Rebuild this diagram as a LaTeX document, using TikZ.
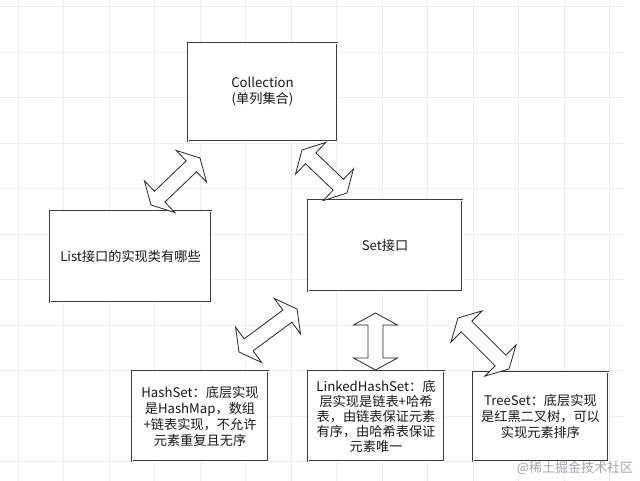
\documentclass[tikz,border=0pt]{standalone}
\usepackage{fontspec}
\setmainfont{Noto Sans CJK SC}
\usetikzlibrary{calc}
\definecolor{gridc}{RGB}{236,236,241}
\definecolor{boxc}{RGB}{60,60,60}
\definecolor{txtc}{RGB}{25,25,25}
\definecolor{wmc}{RGB}{165,165,170}
\tikzset{
  box/.style={draw=boxc, line width=0.9pt, double=white, double distance=0.9pt,
    fill=white, rectangle, inner sep=2pt, align=center, text=txtc,
    font=\fontsize{13.2}{16}\selectfont},
  arrowline/.style={draw=black!85, line width=0.8pt, fill=white, line join=miter},
  gridline/.style={draw=gridc, line width=0.8pt}
}
\newcommand\darr[2]{%
  \draw[arrowline] (#1)
   -- ($(#1)!12pt!(#2)!22pt!90:(#2)$)
   -- ($(#1)!12pt!(#2)!7.5pt!90:(#2)$)
   -- ($(#2)!12pt!(#1)!7.5pt!-90:(#1)$)
   -- ($(#2)!12pt!(#1)!22pt!-90:(#1)$)
   -- (#2)
   -- ($(#2)!12pt!(#1)!22pt!90:(#1)$)
   -- ($(#2)!12pt!(#1)!7.5pt!90:(#1)$)
   -- ($(#1)!12pt!(#2)!7.5pt!-90:(#2)$)
   -- ($(#1)!12pt!(#2)!22pt!-90:(#2)$)
   -- cycle;}
\begin{document}
\begin{tikzpicture}[x=1pt,y=-1pt]
\useasboundingbox (0,0) rectangle (640,481);
\fill[white] (0,0) rectangle (640,481);
% grid
\foreach \k in {0,...,13} { \draw[gridline] ({18+45.5*\k},0) -- ({18+45.5*\k},481); }
\foreach \k in {0,...,10} { \draw[gridline] (0,{6.5+45.5*\k}) -- (623,{6.5+45.5*\k}); }
% boxes
\node[box, minimum width=149pt, minimum height=98pt] (coll) at (262.5,92) {Collection\\(单列集合)};
\node[box, minimum width=161pt, minimum height=91pt] (list) at (130.5,256.5) {List接口的实现类有哪些};
\node[box, minimum width=154pt, minimum height=91pt] (set) at (385,245.5) {Set接口};
\node[box, minimum width=136pt, minimum height=90pt] (hash) at (200,416)
  {HashSet：底层实现\\是HashMap，数组\\+链表实现，不允许\\元素重复且无序};
\node[box, minimum width=136pt, minimum height=90pt, font=\fontsize{13.2}{15}\selectfont] (linked) at (376,416)
  {LinkedHashSet：底\\层实现是链表+哈希\\表，由链表保证元素\\有序，由哈希表保证\\元素唯一};
\node[box, minimum width=135pt, minimum height=89pt] (tree) at (540.5,416.5)
  {TreeSet：底层实现\\是红黑二叉树，可以\\实现元素排序};
% arrow end points
\coordinate (a1s) at (151,205);
\coordinate (a1e) at (200,158);
\coordinate (a2s) at (302,150);
\coordinate (a2e) at (347,193);
\coordinate (a3s) at (239,352);
\coordinate (a3e) at (297,309);
\coordinate (a4s) at (375.5,313);
\coordinate (a4e) at (375.5,370);
\coordinate (a5s) at (458,318);
\coordinate (a5e) at (509,369);
\darr{a1s}{a1e}
\darr{a2s}{a2e}
\darr{a3s}{a3e}
\darr{a4s}{a4e}
\darr{a5s}{a5e}
% watermark
\node[text=wmc, font=\fontsize{13}{15}\selectfont, inner sep=0pt] (wm) at (575,468) {@稀土掘金技术社区};
\end{tikzpicture}
\end{document}
